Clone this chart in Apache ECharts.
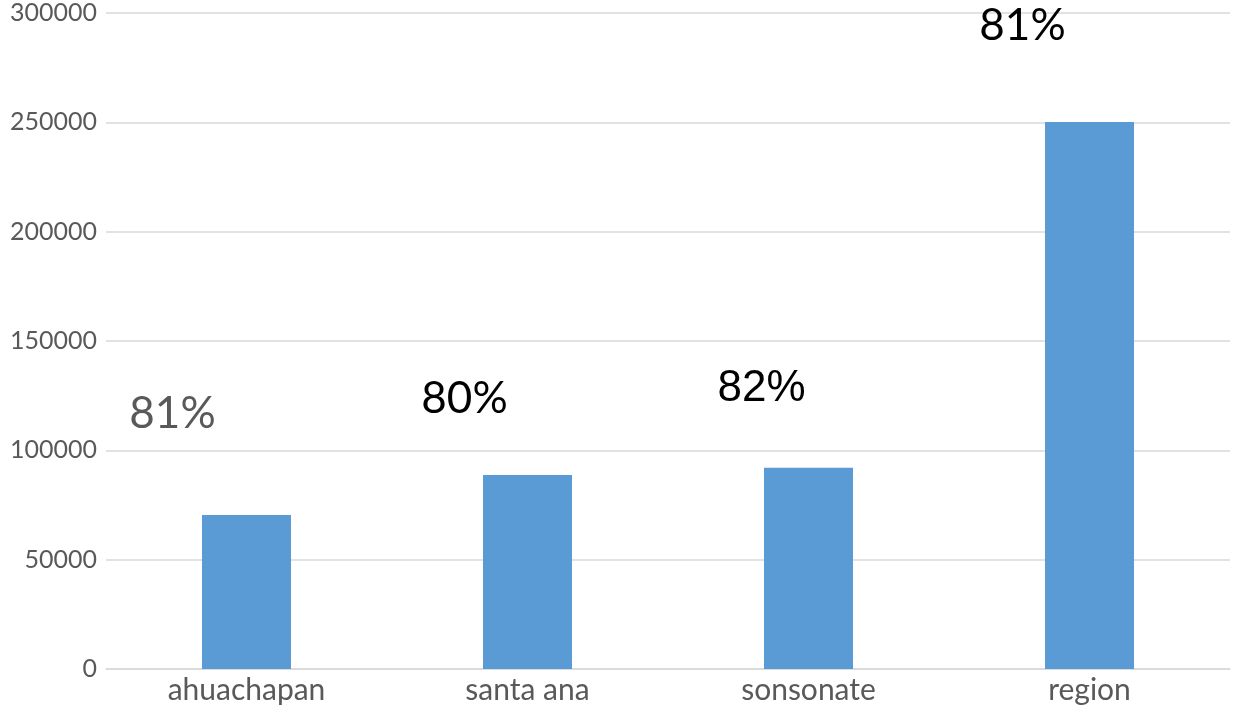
<!DOCTYPE html>
<html>
<head>
<meta charset="utf-8">
<script src="https://cdn.jsdelivr.net/npm/echarts@6/dist/echarts.min.js"></script>
<style>html,body{margin:0;padding:0;background:#fff}#c{width:1233px;height:705px}</style>
</head>
<body>
<div id="c"></div>
<script>
const categories = ['ahuachapan', 'santa ana', 'sonsonate', 'region'];
const values = [70400, 88700, 92000, 250200];
const percentLabels = ['81%', '80%', '82%', '81%'];
const yTicks = [0, 50000, 100000, 150000, 200000, 250000, 300000];

// label styling (positions relative to bar top, colours, fonts)
const labelOffsets = [[-74, -79], [-63, -54], [-47, -57], [-67, -74]];
const labelColors = ['#595959', '#000000', '#000000', '#000000'];
const labelFonts = ['Lato', 'Lato', 'Liberation Sans', 'Lato'];

const chart = echarts.init(document.getElementById('c'));
chart.setOption({
  animation: false,
  grid: { left: 106, right: 3, top: 13, bottom: 36, containLabel: false },
  xAxis: {
    type: 'category',
    data: categories,
    axisLine: { show: true, lineStyle: { color: '#d9d9d9', width: 1.5 } },
    axisTick: { show: false },
    axisLabel: { color: '#595959', fontFamily: 'Lato', fontSize: 30, margin: 6 }
  },
  yAxis: {
    type: 'value',
    min: yTicks[0],
    max: yTicks[yTicks.length - 1],
    interval: 50000,
    axisLine: { show: false },
    axisTick: { show: false },
    splitLine: { lineStyle: { color: '#d9d9d9', width: 1.5 } },
    axisLabel: { color: '#595959', fontFamily: 'Lato', fontSize: 25, margin: 9, formatter: v => String(v) }
  },
  series: [{
    type: 'bar',
    barWidth: 89,
    itemStyle: { color: '#5B9BD5' },
    data: values.map((v, i) => ({
      value: v,
      label: {
        show: true,
        position: 'top',
        distance: 0,
        offset: labelOffsets[i],
        formatter: percentLabels[i],
        color: labelColors[i],
        fontFamily: labelFonts[i],
        fontSize: 44
      }
    }))
  }]
});
</script>
</body>
</html>
